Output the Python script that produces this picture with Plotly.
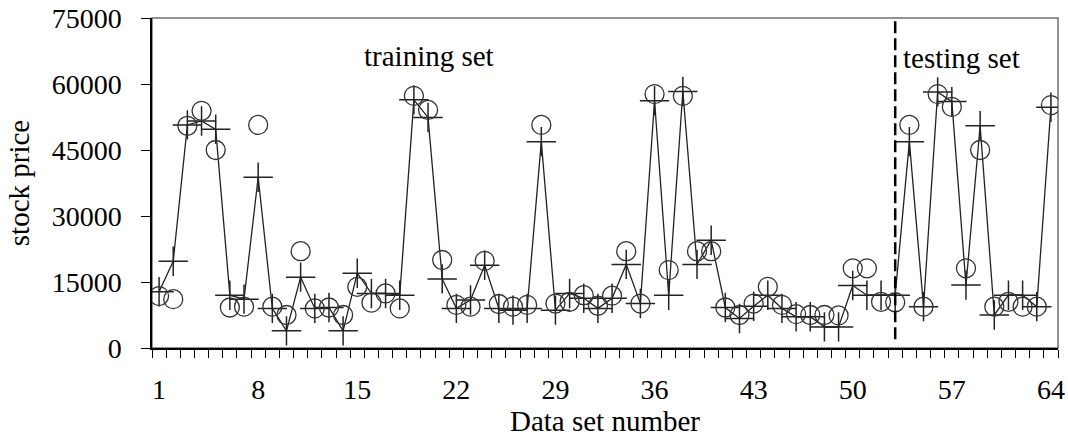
import plotly.graph_objects as go

data_set_number = list(range(1, 65))

circle_vals = [11800, 11100, 50500, 53900, 45000, 9200, 9400, 50700, 9400, 7500,
               22000, 9000, 9200, 7500, 13900, 10300, 12400, 9000, 57300, 54100,
               20000, 9800, 9400, 19800, 10000, 9400, 9800, 50700, 10100, 10500,
               12000, 9600, 11900, 22000, 10100, 57700, 17700, 57300, 22000, 22000,
               9200, 7500, 10100, 13900, 9800, 7700, 7500, 7500, 7400, 18100,
               18100, 10500, 10400, 50700, 9400, 57700, 54800, 18100, 45000, 9400,
               10500, 9400, 9400, 55200]

cross_vals = [12800, 19700, 50700, 51600, 49700, 12000, 11100, 38800, 9000, 3900,
              16100, 9000, 9200, 3900, 17000, 12400, 12400, 12000, 56400, 52400,
              15700, 9000, 10900, 18800, 9000, 8600, 9000, 46900, 8600, 12400,
              11300, 9000, 11300, 19000, 10100, 56200, 12000, 58300, 19000, 24500,
              9200, 6700, 9500, 12000, 9000, 7100, 7100, 4800, 4800, 14200,
              12000, 12000, 12000, 46900, 9400, 58200, 56000, 14300, 50500, 7500,
              12000, 12000, 9400, 54700]

x_tick_vals = [1, 8, 15, 22, 29, 36, 43, 50, 57, 64]
y_tick_vals = [0, 15000, 30000, 45000, 60000, 75000]
split_at = 53

FONT = "Liberation Serif"

fig = go.Figure()
fig.add_trace(go.Scatter(
    x=data_set_number, y=cross_vals, mode="lines+markers",
    line=dict(color="#222222", width=1.3),
    marker=dict(symbol="cross-thin", size=21, color="#222222",
                line=dict(color="#222222", width=1.5)),
    showlegend=False))
fig.add_trace(go.Scatter(
    x=data_set_number, y=circle_vals, mode="markers",
    marker=dict(symbol="circle-open", size=19, color="#333333",
                line=dict(width=1.3)),
    showlegend=False))

fig.add_shape(type="rect", xref="paper", yref="paper", x0=0, x1=1, y0=0, y1=1,
              line=dict(color="#707070", width=1.5), layer="below")
fig.add_shape(type="line", xref="x", yref="y", x0=split_at, x1=split_at,
              y0=2000, y1=75000, line=dict(color="black", width=2.5, dash="12px,5px"))

fig.add_annotation(x=20.1, y=66300, xref="x", yref="y", text="training set",
                   showarrow=False, xanchor="center", yanchor="middle",
                   font=dict(family=FONT, size=29, color="black"))
fig.add_annotation(x=53.4, y=66000, xref="x", yref="y", text="testing set",
                   showarrow=False, xanchor="left", yanchor="middle",
                   font=dict(family=FONT, size=29, color="black"))

fig.update_layout(
    width=1068, height=438,
    margin=dict(l=152, r=10, t=18, b=90),
    paper_bgcolor="white", plot_bgcolor="white",
    font=dict(family=FONT, color="black"),
    xaxis=dict(range=[0.5, 64.5], tickvals=x_tick_vals, ticks="",
               showline=True, linecolor="black", linewidth=1.5,
               showgrid=False, zeroline=False, automargin=False,
               minor=dict(tick0=0.5, dtick=1, ticks="outside", ticklen=8,
                          tickcolor="black", tickwidth=1, showgrid=False),
               ticklabelstandoff=16,
               tickfont=dict(family=FONT, size=28, color="black"),
               title=dict(text="Data set number", standoff=0,
                          font=dict(family=FONT, size=29, color="black"))),
    yaxis=dict(range=[0, 75000], tickvals=y_tick_vals, tickformat="d",
               ticks="outside",
               ticklen=9, tickcolor="black", tickwidth=1,
               showline=True, linecolor="black", linewidth=1.5,
               showgrid=False, zeroline=False, automargin=False,
               ticklabelstandoff=14,
               tickfont=dict(family=FONT, size=28, color="black"),
               title=dict(text="stock price", standoff=14,
                          font=dict(family=FONT, size=29, color="black"))),
)

fig.write_html("out.html", config={"displayModeBar": False},
               post_script="document.body.style.margin='0';document.body.style.overflow='hidden';")
